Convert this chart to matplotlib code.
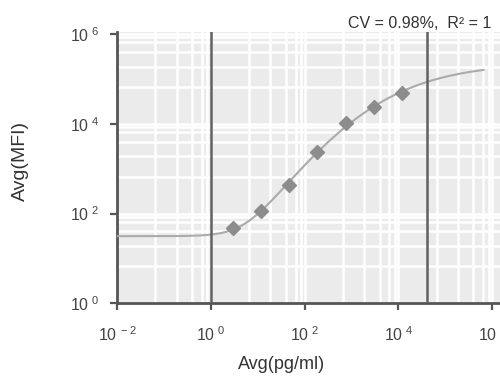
import numpy as np
import matplotlib
matplotlib.use("Agg")
import matplotlib.pyplot as plt
from matplotlib.ticker import FixedLocator, FuncFormatter, NullFormatter

plt.rcParams['font.family'] = ['Liberation Sans', 'DejaVu Sans']
plt.rcParams['mathtext.fontset'] = 'custom'
plt.rcParams['mathtext.rm'] = 'Liberation Sans'
plt.rcParams['mathtext.it'] = 'Liberation Sans'

# Standards: concentration (pg/ml) and average MFI
conc = [2.93, 11.72, 46.88, 187.5, 750, 3000, 12000]
mfi = [48, 114, 430, 2380, 10200, 24000, 49000]

# 5PL standard-curve parameters
fit_a = 10**1.495      # lower asymptote
fit_d = 10**5.362      # upper asymptote
fit_c = 10**3.109      # inflection concentration
fit_b = 0.376          # slope
fit_g = 4.128          # asymmetry
curve_range = [0.01, 10**5.82]

# Range limit lines (pg/ml)
limits = [1.0, 41000]

x_ticks = [1e-2, 1, 1e2, 1e4, 1e6]
y_ticks = [1, 1e2, 1e4, 1e6]
stats_text = 'CV = 0.98%,  R² = 1'
x_label = 'Avg(pg/ml)'
y_label = 'Avg(MFI)'


def five_pl(x):
    x = np.asarray(x, float)
    return fit_a + (fit_d - fit_a) / (1 + (fit_c / x)**fit_b)**fit_g


fig = plt.figure(figsize=(5, 3.77), dpi=100)
ax = fig.add_axes([0.234, 0.1955, 0.766, 0.7205])
ax.set_xscale('log'); ax.set_yscale('log')
ax.set_xlim(1e-2, 10**6.17); ax.set_ylim(1, 10**6.05)
ax.set_facecolor('#ebebeb')

fr = [0.41, 0.635, 0.80, 0.905, 0.965]
xmin = [10**(s + 2*q) for s in (-2, 0, 2, 4, 6) for q in fr]
ymin = [10**(s + 2*q) for s in (0, 2, 4, 6) for q in fr]
ax.xaxis.set_major_locator(FixedLocator(x_ticks))
ax.yaxis.set_major_locator(FixedLocator(y_ticks))
ax.xaxis.set_minor_locator(FixedLocator(xmin))
ax.yaxis.set_minor_locator(FixedLocator(ymin))
ax.xaxis.set_minor_formatter(NullFormatter()); ax.yaxis.set_minor_formatter(NullFormatter())
fmt = FuncFormatter(lambda v, pos: r'$\mathregular{10^{\ %d}}$' % round(np.log10(v)))
ax.xaxis.set_major_formatter(fmt); ax.yaxis.set_major_formatter(fmt)
ax.grid(which='both', color='white', lw=1.8)
ax.set_axisbelow(True)
for s in ('top', 'right'):
    ax.spines[s].set_visible(False)
for s in ('left', 'bottom'):
    ax.spines[s].set_color('#555555'); ax.spines[s].set_linewidth(2)
ax.tick_params(which='major', direction='out', length=5, width=1.6, color='#555555',
               labelcolor='#444444', labelsize=11.5)
ax.tick_params(axis='x', which='major', pad=11)
ax.tick_params(axis='y', which='major', pad=8)
ax.tick_params(which='minor', length=0)

xc = np.logspace(np.log10(curve_range[0]), np.log10(curve_range[1]), 400)
ax.plot(xc, five_pl(xc), color='#ababab', lw=1.5, zorder=3)
for lim in limits:
    ax.axvline(lim, color='#606060', lw=1.8, zorder=4)
ax.plot(conc, mfi, 'D', color='#8c8c8c', ms=7.5, zorder=5)

fig.text(0.982, 0.925, stats_text, ha='right', va='baseline', fontsize=11.5, color='#333333')
fig.text(0.564, 0.021, x_label, ha='center', va='baseline', fontsize=13, color='#333333')
fig.text(0.04, 0.573, y_label, ha='center', va='center', rotation=90, fontsize=14, color='#333333')
fig.savefig('out.png', dpi=100)
